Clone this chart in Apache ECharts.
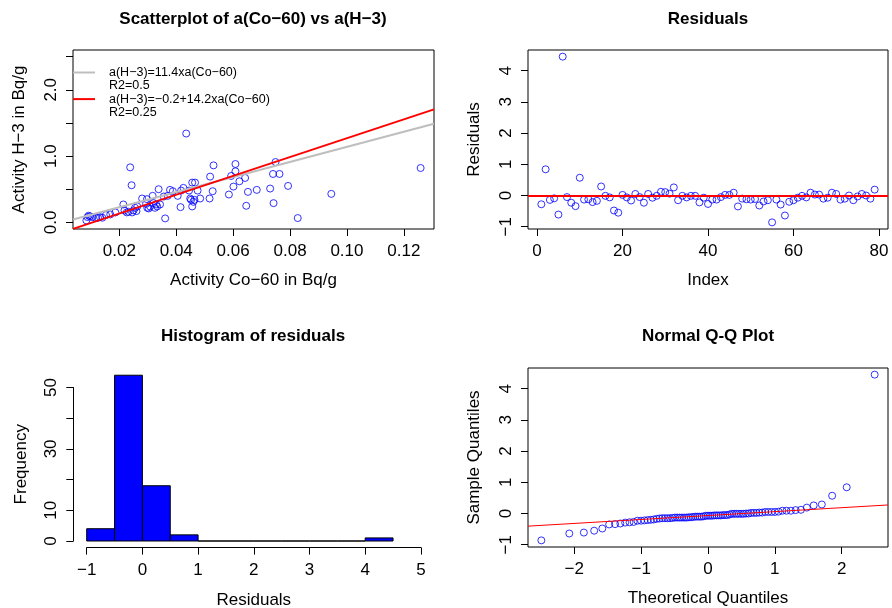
<!DOCTYPE html>
<html>
<head>
<meta charset="utf-8">
<script src="https://cdn.jsdelivr.net/npm/echarts@6/dist/echarts.min.js"></script>
<style>
  html, body { margin: 0; padding: 0; background: #fff; }
  #chart { width: 892px; height: 608px; }
</style>
</head>
<body>
<div id="chart"></div>
<script>
  // scatter data
  const coX = [
    0.0084, 0.0088, 0.0092, 0.0097, 0.0105, 0.0118, 0.0125, 0.0132, 0.0140, 0.0153,
    0.0168, 0.0186, 0.0214, 0.0218, 0.0226, 0.0232, 0.0238, 0.0243, 0.0245, 0.0250,
    0.0255, 0.0260, 0.0263, 0.0280, 0.0294, 0.0297, 0.0298, 0.0303, 0.0308, 0.0317,
    0.0320, 0.0325, 0.0329, 0.0333, 0.0338, 0.0343, 0.0356, 0.0361, 0.0370, 0.0378,
    0.0388, 0.0405, 0.0415, 0.0417, 0.0425, 0.0435, 0.0445, 0.0449, 0.0452, 0.0456,
    0.0456, 0.0460, 0.0464, 0.0466, 0.0475, 0.0484, 0.0517, 0.0519, 0.0528, 0.0531,
    0.0585, 0.0593, 0.0601, 0.0608, 0.0608, 0.0622, 0.0642, 0.0646, 0.0652, 0.0683,
    0.0730, 0.0740, 0.0742, 0.0749, 0.0763, 0.0793, 0.0827, 0.0945, 0.1259
  ];
  const h3Y = [
    0.03, 0.08, 0.10, 0.09, 0.08, 0.065, 0.07, 0.08, 0.07, 0.11,
    0.12, 0.15, 0.27, 0.18, 0.15, 0.16, 0.83, 0.56, 0.15, 0.18,
    0.22, 0.17, 0.24, 0.36, 0.28, 0.35, 0.22, 0.21, 0.24, 0.40,
    0.29, 0.22, 0.27, 0.24, 0.50, 0.27, 0.39, 0.06, 0.40, 0.49,
    0.47, 0.40, 0.23, 0.48, 0.52, 1.34, 0.48, 0.36, 0.34, 0.24,
    0.60, 0.31, 0.34, 0.60, 0.48, 0.36, 0.36, 0.69, 0.47, 0.86,
    0.42, 0.70, 0.54, 0.77, 0.88, 0.62, 0.67, 0.25, 0.46, 0.49,
    0.51, 0.73, 0.29, 0.91, 0.73, 0.55, 0.065, 0.43, 0.82
  ];
  const fitSlopes = [11.4, 14.2];
  const fitIntercepts = [0, -0.15];
  const legendLabels = [
    ['a(H\u22123)=11.4xa(Co\u221260)', 'R2=0.5'],
    ['a(H\u22123)=\u22120.2+14.2xa(Co\u221260)', 'R2=0.25']
  ];

  // residuals in index order
  const residuals = [
    -0.28, 0.84, -0.14, -0.09, -0.61, 4.45, -0.05, -0.23, -0.34, 0.57,
    -0.13, -0.12, -0.21, -0.17, 0.29, -0.01, -0.06, -0.48, -0.55, 0.02,
    -0.06, -0.16, 0.05, -0.05, -0.23, 0.05, -0.07, -0.01, 0.12, 0.11,
    0.06, 0.26, -0.15, -0.01, -0.06, -0.01, -0.01, -0.22, -0.07, -0.27,
    -0.13, -0.13, -0.05, 0.02, 0.02, 0.09, -0.35, -0.10, -0.12, -0.13,
    -0.11, -0.32, -0.19, -0.15, -0.86, -0.13, -0.29, -0.64, -0.20, -0.15,
    -0.07, -0.01, -0.06, 0.09, 0.03, 0.03, -0.10, -0.07, 0.09, 0.05,
    -0.13, -0.10, 0.00, -0.15, -0.03, 0.05, 0.00, -0.10, 0.19
  ];

  const histBreaks = [-1, -0.5, 0, 0.5, 1, 1.5, 2, 2.5, 3, 3.5, 4, 4.5];
  const histCounts = [4, 54, 18, 2, 0, 0, 0, 0, 0, 0, 1];

  // ticks
  const scatterXTicks = [0.02, 0.04, 0.06, 0.08, 0.10, 0.12];
  const scatterYTicks = [0, 0.5, 1, 1.5, 2, 2.5];
  const scatterYLabels = [0, 1, 2];
  const indexTicks = [0, 20, 40, 60, 80];
  const residTicks = [-1, 0, 1, 2, 3, 4];
  const histXTicks = [-1, 0, 1, 2, 3, 4, 5];
  const histYTicks = [0, 10, 20, 30, 40, 50];
  const histYLabels = [0, 10, 30, 50];
  const qqXTicks = [-2, -1, 0, 1, 2];

  const FONT = 'Liberation Sans, Arial, Helvetica, sans-serif';

  function rRange(lo, hi) {
    let d = (hi - lo) * 0.04;
    return [lo - d, hi + d];
  }

  function minus(s) {
    return String(s).replace('-', '\u2212');
  }

  function qnorm(p) {
    const a = [-3.969683028665376e+01, 2.209460984245205e+02, -2.759285104469687e+02, 1.383577518672690e+02, -3.066479806614716e+01, 2.506628277459239e+00];
    const b = [-5.447609879822406e+01, 1.615858368580409e+02, -1.556989798598866e+02, 6.680131188771972e+01, -1.328068155288572e+01];
    const c = [-7.784894002430293e-03, -3.223964580411365e-01, -2.400758277161838e+00, -2.549732539343734e+00, 4.374664141464968e+00, 2.938163982698783e+00];
    const d = [7.784695709041462e-03, 3.224671290700398e-01, 2.445134137142996e+00, 3.754408661907416e+00];
    let q, r;
    if (p < 0.02425) {
      q = Math.sqrt(-2 * Math.log(p));
      return (((((c[0]*q+c[1])*q+c[2])*q+c[3])*q+c[4])*q+c[5]) / ((((d[0]*q+d[1])*q+d[2])*q+d[3])*q+1);
    }
    if (p > 1 - 0.02425) {
      q = Math.sqrt(-2 * Math.log(1 - p));
      return -(((((c[0]*q+c[1])*q+c[2])*q+c[3])*q+c[4])*q+c[5]) / ((((d[0]*q+d[1])*q+d[2])*q+d[3])*q+1);
    }
    q = p - 0.5; r = q * q;
    return (((((a[0]*r+a[1])*r+a[2])*r+a[3])*r+a[4])*r+a[5])*q / (((((b[0]*r+b[1])*r+b[2])*r+b[3])*r+b[4])*r+1);
  }

  function quantile7(sorted, p) {
    let h = (sorted.length - 1) * p, lo = Math.floor(h);
    return sorted[lo] + (h - lo) * (sorted[lo + 1] - sorted[lo]);
  }

  // Q-Q values
  let n = residuals.length;
  let sortedRes = residuals.slice().sort((a, b) => a - b);
  let theo = sortedRes.map((v, i) => qnorm((i + 1 - 0.5) / n));
  let q1 = quantile7(sortedRes, 0.25), q3 = quantile7(sortedRes, 0.75);
  let qqSlope = (q3 - q1) / (qnorm(0.75) - qnorm(0.25));
  let qqInt = q1 - qqSlope * qnorm(0.25);

  let sxR = rRange(Math.min(...coX), Math.max(...coX));
  let syR = rRange(0, 2.5);
  let ixR = rRange(1, n);
  let ryR = rRange(Math.min(...residuals), Math.max(...residuals));
  let qxR = rRange(theo[0], theo[n - 1]);
  let qyR = rRange(sortedRes[0], sortedRes[n - 1]);

  function axis(gridIndex, range, ticks, labels, fmt, name, gap, rotate, showLine, offset) {
    return {
      type: 'value',
      gridIndex: gridIndex,
      min: range[0],
      max: range[1],
      offset: offset || 0,
      name: name,
      nameLocation: 'middle',
      nameGap: gap,
      nameTextStyle: { fontSize: 17, color: '#000', fontFamily: FONT },
      axisLine: { show: !!showLine, onZero: false, lineStyle: { color: '#000', width: 1 } },
      axisTick: { show: true, length: 7, customValues: ticks, lineStyle: { color: '#000', width: 1 } },
      axisLabel: {
        customValues: labels, formatter: fmt, rotate: rotate, margin: rotate ? 13 : 14,
        fontSize: 17, color: '#000', fontFamily: FONT
      },
      splitLine: { show: false }
    };
  }

  let chart = echarts.init(document.getElementById('chart'));

  let titleStyle = { fontSize: 17, fontWeight: 'bold', color: '#000', fontFamily: FONT };
  let legendGraphic = [];
  let legendColors = ['#BEBEBE', '#FF0000'];
  legendLabels.forEach((lines, k) => {
    let y0 = 72.5 + k * 26.6;
    legendGraphic.push({
      type: 'line', shape: { x1: 73, y1: y0, x2: 95, y2: y0 },
      style: { stroke: legendColors[k], lineWidth: 2 }
    });
    lines.forEach((t, j) => {
      legendGraphic.push({
        type: 'text', x: 109, y: y0 + j * 13.3,
        style: { text: t, fontSize: 12.5, fontFamily: FONT, fill: '#000', verticalAlign: 'middle' }
      });
    });
  });

  let option = {
    animation: false,
    backgroundColor: '#fff',
    title: [
      { text: 'Scatterplot of a(Co\u221260) vs a(H\u22123)', left: 253, top: 11, textAlign: 'center', padding: 0, textStyle: titleStyle },
      { text: 'Residuals', left: 708, top: 11, textAlign: 'center', padding: 0, textStyle: titleStyle },
      { text: 'Histogram of residuals', left: 253, top: 328, textAlign: 'center', padding: 0, textStyle: titleStyle },
      { text: 'Normal Q-Q Plot', left: 708, top: 328, textAlign: 'center', padding: 0, textStyle: titleStyle }
    ],
    grid: [
      { left: 73, top: 50, width: 361, height: 179, show: true, borderColor: '#000', borderWidth: 1, outerBoundsMode: 'none' },
      { left: 528, top: 50, width: 360, height: 179, show: true, borderColor: '#000', borderWidth: 1, outerBoundsMode: 'none' },
      { left: 86.7, top: 387.5, width: 334.2, height: 153.5, outerBoundsMode: 'none' },
      { left: 528, top: 368, width: 360, height: 179, show: true, borderColor: '#000', borderWidth: 1, outerBoundsMode: 'none' }
    ],
    xAxis: [
      axis(0, sxR, scatterXTicks, scatterXTicks, v => v.toFixed(2), 'Activity Co\u221260 in Bq/g', 43, 0),
      axis(1, ixR, indexTicks, indexTicks, v => minus(v), 'Index', 43, 0),
      axis(2, [-1, 5], histXTicks, histXTicks, v => minus(v), 'Residuals', 44, 0, true, 6.6),
      axis(3, qxR, qqXTicks, qqXTicks, v => minus(v), 'Theoretical Quantiles', 43, 0)
    ],
    yAxis: [
      axis(0, syR, scatterYTicks, scatterYLabels, v => v.toFixed(1), 'Activity H\u22123 in Bq/g', 45, 90),
      axis(1, ryR, residTicks, residTicks, v => minus(v), 'Residuals', 45, 90),
      axis(2, [0, 50], histYTicks, histYLabels, v => minus(v), 'Frequency', 43.5, 90, true, 13.4),
      axis(3, qyR, residTicks, residTicks, v => minus(v), 'Sample Quantiles', 45, 90)
    ],
    graphic: legendGraphic,
    series: [
      {
        type: 'scatter', xAxisIndex: 0, yAxisIndex: 0,
        data: coX.map((x, i) => [x, h3Y[i]]),
        symbol: 'circle', symbolSize: 7,
        itemStyle: { color: 'rgba(0,0,0,0)', borderColor: '#0000FF', borderWidth: 1 }
      },
      {
        type: 'line', xAxisIndex: 0, yAxisIndex: 0, showSymbol: false, clip: true,
        data: sxR.map(x => [x, fitIntercepts[0] + fitSlopes[0] * x]),
        lineStyle: { color: '#BEBEBE', width: 2 }
      },
      {
        type: 'line', xAxisIndex: 0, yAxisIndex: 0, showSymbol: false, clip: true,
        data: sxR.map(x => [x, fitIntercepts[1] + fitSlopes[1] * x]),
        lineStyle: { color: '#FF0000', width: 2 }
      },
      {
        type: 'scatter', xAxisIndex: 1, yAxisIndex: 1,
        data: residuals.map((v, i) => [i + 1, v]),
        symbol: 'circle', symbolSize: 7,
        itemStyle: { color: 'rgba(0,0,0,0)', borderColor: '#0000FF', borderWidth: 1 },
        markLine: {
          silent: true, symbol: 'none', animation: false,
          label: { show: false },
          lineStyle: { color: '#FF0000', width: 2, type: 'solid' },
          data: [{ yAxis: 0 }]
        }
      },
      {
        type: 'custom', xAxisIndex: 2, yAxisIndex: 2, clip: false,
        data: histCounts.map((c, i) => [histBreaks[i], histBreaks[i + 1], c]),
        renderItem: function (params, api) {
          let p0 = api.coord([api.value(0), api.value(2)]);
          let p1 = api.coord([api.value(1), 0]);
          return {
            type: 'rect',
            shape: { x: p0[0], y: p0[1], width: p1[0] - p0[0], height: p1[1] - p0[1] },
            style: { fill: '#0000FF', stroke: '#000', lineWidth: 1 }
          };
        }
      },
      {
        type: 'scatter', xAxisIndex: 3, yAxisIndex: 3,
        data: theo.map((t, i) => [t, sortedRes[i]]),
        symbol: 'circle', symbolSize: 7,
        itemStyle: { color: 'rgba(0,0,0,0)', borderColor: '#0000FF', borderWidth: 1 }
      },
      {
        type: 'line', xAxisIndex: 3, yAxisIndex: 3, showSymbol: false, clip: true,
        data: qxR.map(x => [x, qqInt + qqSlope * x]),
        lineStyle: { color: '#FF0000', width: 1 }
      }
    ]
  };

  chart.setOption(option);
</script>
</body>
</html>
